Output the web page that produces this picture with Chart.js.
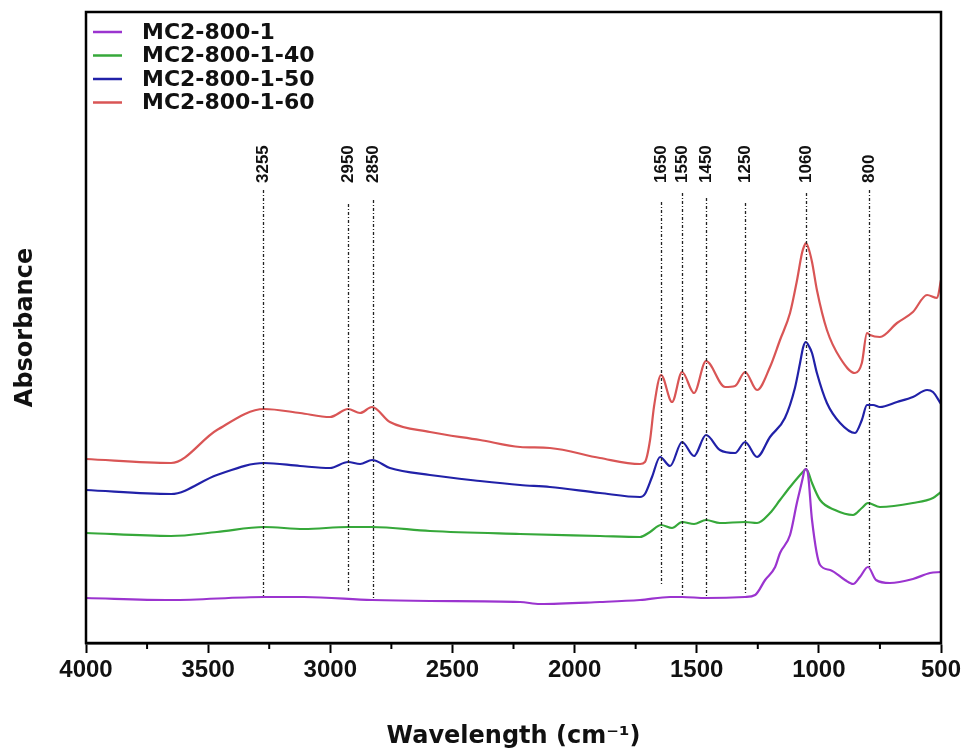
<!DOCTYPE html>
<html>
<head>
<meta charset="utf-8">
<script src="https://cdn.jsdelivr.net/npm/chart.js@4.4.1/dist/chart.umd.min.js"></script>
<style>
  html, body { margin: 0; padding: 0; background: #fff; }
  #wrap { width: 972px; height: 751px; }
</style>
</head>
<body>
<div id="wrap"><canvas id="myChart" width="972" height="751"></canvas></div>
<script>
const FONT = '"Liberation Sans", Arial, sans-serif'
const WIDE = '"DejaVu Sans", sans-serif'

const seriesNames = ['MC2-800-1', 'MC2-800-1-40', 'MC2-800-1-50', 'MC2-800-1-60']
const seriesColors = ['#9b34cf', '#36a83a', '#2121a8', '#d95555']

// MC2-800-1
const wn1 = [4000,3652,3271,3108,2829,2592,2223,2142,1896,1732,1609,1560,1462,1302,1261,1220,1179,1159,1118,1090,1065,1060,1053,1045,1028,995,954,893,860,832,799,766,709,615,545,500]
const abs1 = [0.45,0.43,0.46,0.46,0.43,0.42,0.41,0.39,0.41,0.43,0.46,0.46,0.45,0.46,0.48,0.63,0.76,0.90,1.08,1.40,1.66,1.72,1.74,1.70,1.23,0.78,0.73,0.63,0.59,0.66,0.76,0.63,0.60,0.64,0.70,0.71]
// MC2-800-1-40
const wn2 = [4000,3652,3464,3271,3108,2927,2829,2592,2223,1896,1732,1691,1646,1601,1560,1511,1462,1405,1302,1253,1200,1159,1118,1077,1062,1053,1044,1028,995,934,860,824,799,750,615,533,500]
const abs2 = [1.10,1.07,1.11,1.16,1.14,1.16,1.16,1.12,1.09,1.07,1.06,1.11,1.18,1.15,1.21,1.19,1.23,1.20,1.21,1.20,1.30,1.43,1.56,1.68,1.72,1.74,1.71,1.60,1.43,1.33,1.28,1.35,1.40,1.36,1.40,1.45,1.51]
// MC2-800-1-50
const wn3 = [4000,3652,3464,3271,3124,3001,2927,2878,2829,2756,2592,2387,2223,2101,1896,1732,1712,1683,1650,1609,1560,1511,1462,1405,1343,1302,1253,1200,1139,1098,1077,1064,1053,1041,1028,1008,967,913,852,824,803,778,750,680,615,557,533,500]
const abs3 = [1.53,1.49,1.68,1.80,1.77,1.75,1.81,1.79,1.83,1.75,1.68,1.62,1.58,1.56,1.50,1.46,1.49,1.66,1.86,1.77,2.01,1.87,2.08,1.93,1.90,2.01,1.86,2.06,2.25,2.55,2.80,2.96,3.01,2.97,2.90,2.70,2.40,2.20,2.10,2.23,2.38,2.38,2.36,2.41,2.46,2.53,2.51,2.39]
// MC2-800-1-60
const wn4 = [4000,3652,3464,3271,3124,3001,2927,2878,2829,2756,2592,2387,2223,2101,1896,1732,1712,1691,1675,1646,1601,1560,1511,1462,1384,1343,1302,1253,1200,1159,1118,1090,1069,1060,1053,1044,1028,1008,967,913,852,824,803,791,750,680,615,557,516,500]
const abs4 = [1.84,1.80,2.13,2.34,2.30,2.26,2.34,2.30,2.36,2.21,2.11,2.03,1.96,1.95,1.85,1.79,1.81,2.03,2.36,2.68,2.41,2.71,2.50,2.82,2.56,2.57,2.71,2.53,2.76,3.03,3.30,3.62,3.90,3.97,4.00,3.96,3.81,3.53,3.13,2.85,2.70,2.80,3.10,3.08,3.06,3.20,3.31,3.48,3.45,3.63]

// marked bands
const peakLabels = ['3255','2950','2850','1650','1550','1450','1250','1060','800']
const peakWn = [3275,2928,2825,1646,1560,1462,1302,1053,795]
const peakTop = [4.53,4.39,4.43,4.41,4.50,4.45,4.40,4.50,4.53]
const peakBottom = [0.46,0.51,0.45,0.58,0.48,0.46,0.50,1.76,0.76]
const peakLabelLevel = 4.60

const xTicks = [4000,3500,3000,2500,2000,1500,1000,500]

function toPoints(xs, ys) {
  return xs.map(function(x, i) { return {x: x, y: ys[i]} })
}

const allWn = [wn1, wn2, wn3, wn4]
const allAbs = [abs1, abs2, abs3, abs4]

const datasets = seriesNames.map(function(name, i) {
  return {
    label: name,
    data: toPoints(allWn[i], allAbs[i]),
    borderColor: seriesColors[i],
    backgroundColor: seriesColors[i],
    borderWidth: 2.2,
    pointRadius: 0,
    cubicInterpolationMode: 'monotone',
    fill: false
  }
})

const decorPlugin = {
  id: 'decor',
  afterDatasetsDraw(chart) {
    const ctx = chart.ctx
    const xs = chart.scales.x
    const ys = chart.scales.y
    ctx.save()
    // dashed band lines
    ctx.strokeStyle = '#222'
    ctx.lineWidth = 1.3
    ctx.setLineDash([3, 2, 1, 2])
    peakWn.forEach(function(w, i) {
      const px = Math.round(xs.getPixelForValue(w)) + 0.5
      ctx.beginPath()
      ctx.moveTo(px, ys.getPixelForValue(peakTop[i]))
      ctx.lineTo(px, ys.getPixelForValue(peakBottom[i]))
      ctx.stroke()
    })
    ctx.setLineDash([])
    // band labels
    ctx.fillStyle = '#111'
    ctx.font = 'bold 17px ' + FONT
    ctx.textAlign = 'left'
    ctx.textBaseline = 'middle'
    peakWn.forEach(function(w, i) {
      ctx.save()
      ctx.translate(xs.getPixelForValue(w), ys.getPixelForValue(peakLabelLevel))
      ctx.rotate(-Math.PI / 2)
      ctx.fillText(peakLabels[i], 0, 0)
      ctx.restore()
    })
    ctx.restore()
  },
  afterDraw(chart) {
    const ctx = chart.ctx
    const a = chart.chartArea
    const xs = chart.scales.x
    ctx.save()
    // frame
    ctx.strokeStyle = '#000'
    ctx.lineWidth = 2.5
    ctx.strokeRect(a.left, a.top, a.right - a.left, a.bottom - a.top)
    // minor ticks
    ctx.lineWidth = 2
    for (let v = 750; v < 4000; v += 500) {
      const px = xs.getPixelForValue(v)
      ctx.beginPath()
      ctx.moveTo(px, a.bottom)
      ctx.lineTo(px, a.bottom + 6)
      ctx.stroke()
    }
    // legend
    ctx.font = 'bold 22px ' + WIDE
    ctx.textBaseline = 'middle'
    ctx.textAlign = 'left'
    chart.data.datasets.forEach(function(ds, i) {
      const y = a.top + 20 + i * 23.5
      ctx.strokeStyle = ds.borderColor
      ctx.lineWidth = 2.5
      ctx.beginPath()
      ctx.moveTo(a.left + 7, y)
      ctx.lineTo(a.left + 36, y)
      ctx.stroke()
      ctx.fillStyle = '#111'
      ctx.fillText(ds.label, a.left + 56, y + 1)
    })
    // y title
    ctx.font = 'bold 24px ' + WIDE
    ctx.textAlign = 'center'
    ctx.translate(26, (a.top + a.bottom) / 2)
    ctx.rotate(-Math.PI / 2)
    ctx.fillText('Absorbance', 0, 0)
    ctx.restore()
  }
}

new Chart(document.getElementById('myChart'), {
  type: 'line',
  data: { datasets: datasets },
  options: {
    responsive: false,
    animation: false,
    layout: { padding: { left: 86, right: 31, top: 12, bottom: 0 } },
    plugins: {
      legend: { display: false },
      tooltip: { enabled: false }
    },
    scales: {
      x: {
        type: 'linear',
        reverse: true,
        min: 500,
        max: 4000,
        afterBuildTicks: function(scale) {
          scale.ticks = xTicks.map(function(v) { return {value: v} })
        },
        afterFit: function(scale) { scale.height = 108 },
        grid: {
          display: true,
          drawOnChartArea: false,
          drawTicks: true,
          tickLength: 10,
          tickWidth: 2,
          tickColor: '#000'
        },
        border: { display: true, color: '#000', width: 2.5 },
        ticks: {
          color: '#111',
          font: { family: FONT, size: 24, weight: 'bold' },
          padding: 3,
          maxRotation: 0,
          autoSkip: false,
          callback: function(v) { return String(v) }
        },
        title: {
          display: true,
          text: 'Wavelength (cm\u207B\u00B9)',
          color: '#111',
          font: { family: WIDE, size: 24, weight: 'bold' },
          padding: { top: 0, bottom: 0 }
        }
      },
      y: {
        display: false,
        min: 0,
        max: 6.31
      }
    }
  },
  plugins: [decorPlugin]
})
</script>
</body>
</html>
